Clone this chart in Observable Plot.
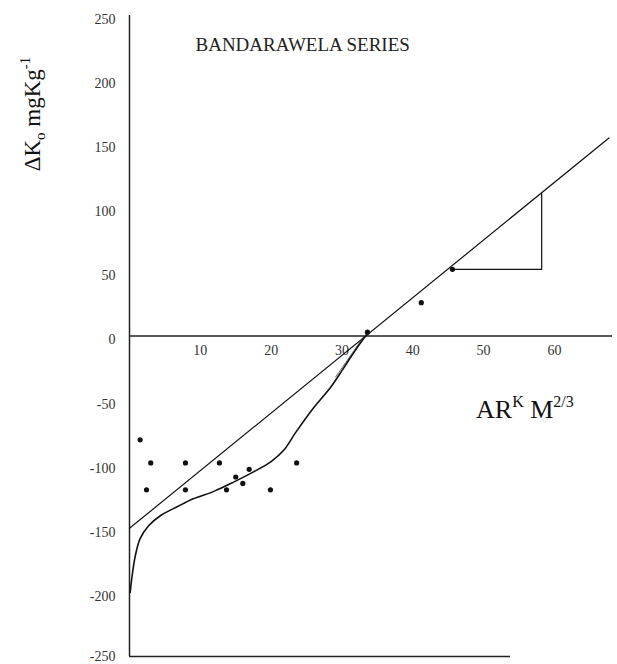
<!DOCTYPE html>
<html>
<head>
<meta charset="utf-8">
<script src="https://cdn.jsdelivr.net/npm/d3@7"></script>
<script src="https://cdn.jsdelivr.net/npm/@observablehq/plot@0.6"></script>
<style>
  html, body { margin: 0; padding: 0; background: #fff; }
  #chart { width: 617px; height: 664px; }
</style>
</head>
<body>
<div id="chart"></div>
<script>
// ---- data ----
const chartTitle = "BANDARAWELA SERIES";
const xTicks = [10, 20, 30, 40, 50, 60];
const yTicks = [250, 200, 150, 100, 50, 0, -50, -100, -150, -200, -250];

// observed points (AR^K M^2/3, ΔKo)
const pointX = [1.5, 3.0, 7.9, 12.7, 2.4, 7.9, 13.7, 16.0, 15.0, 16.9, 19.9, 23.6, 33.6, 41.2, 45.6];
const pointY = [-81, -99, -99, -99, -120, -120, -120, -115, -110, -104, -120, -99, 3, 26, 52];

// straight (linear) line
const lineX = [0, 67.7];
const lineY = [-150, 154.5];

// slope triangle
const triX = [45.6, 58.2, 58.2];
const triY = [52, 52, 111];

// fitted curve
const curveX = [0.1, 0.3, 0.8, 1.5, 2.7, 4.4, 6.8, 9.0, 12.0, 14.7, 17.5, 20.0, 21.8, 23.5, 26.0, 28.4, 30.0, 31.3, 32.4, 33.6];
const curveY = [-200, -190, -172, -158, -148, -140, -133, -127, -121, -114, -106, -98, -89, -75, -56, -40, -27, -16, -7, 2];

// hatched double stroke near the crossing
const hatchX = [29.1, 33.0];
const hatchY = [-32, -1];

// axis extents
const xMax = 68.2;
const bottomLineEnd = 53.8;

// ---- build tables ----
const points = pointX.map((x, i) => ({x, y: pointY[i]}));
const line = lineX.map((x, i) => ({x, y: lineY[i]}));
const tri = triX.map((x, i) => ({x, y: triY[i]}));
const curve = curveX.map((x, i) => ({x, y: curveY[i]}));
const hatch = hatchX.map((x, i) => ({x, y: hatchY[i]}));

const font = "'Liberation Serif', 'Times New Roman', serif";

const chart = Plot.plot({
  width: 617,
  height: 664,
  marginLeft: 129,
  marginRight: 5,
  marginTop: 15,
  marginBottom: 8,
  x: {domain: [0, xMax], axis: null},
  y: {domain: [-250, 250], axis: null},
  style: {fontFamily: font, background: "#fff", color: "#222"},
  marks: [
    // axes lines
    Plot.ruleX([0], {y1: -250, y2: 250, stroke: "#222", strokeWidth: 1.5}),
    Plot.ruleY([0], {x1: 0, x2: xMax, stroke: "#222", strokeWidth: 1.3}),
    Plot.ruleY([-250], {x1: 0, x2: bottomLineEnd, stroke: "#222", strokeWidth: 1.3}),
    // tick labels
    Plot.text(yTicks.filter(d => d > -250), {x: 0, y: d => d, text: d => String(d), textAnchor: "end", dx: -14, dy: 4, fontSize: 14, fill: "#333"}),
    Plot.text(yTicks.filter(d => d === -250), {x: 0, y: d => d, text: d => String(d), textAnchor: "end", dx: -14, dy: 0, fontSize: 14, fill: "#333"}),
    Plot.text(xTicks, {x: d => d, y: 0, text: d => String(d), dy: 15, fontSize: 14, fill: "#333"}),
    // straight line and triangle
    Plot.line(line, {x: "x", y: "y", stroke: "#111", strokeWidth: 1.2}),
    Plot.line(tri, {x: "x", y: "y", stroke: "#111", strokeWidth: 1.2}),
    // hatched band near crossing
    Plot.line(hatch, {x: "x", y: "y", stroke: "#555", strokeWidth: 0.9, strokeDasharray: "2,1"}),
    // curve
    Plot.line(curve, {x: "x", y: "y", curve: "catmull-rom", stroke: "#111", strokeWidth: 1.6}),
    // points
    Plot.dot(points, {x: "x", y: "y", r: 2.6, fill: "#111", stroke: "none"}),
    // title
    Plot.text([chartTitle], {frameAnchor: "top-left", dx: 66, dy: 29, lineAnchor: "middle", textAnchor: "start", fontSize: 19, fill: "#222"})
  ]
});

document.getElementById("chart").appendChild(chart);

// axis labels with sub/superscripts
const svg = d3.select(chart);
const yl = svg.append("text")
  .attr("transform", "translate(40,114) rotate(-90)")
  .attr("text-anchor", "middle")
  .attr("font-family", font)
  .attr("font-size", 23)
  .attr("fill", "#111");
yl.append("tspan").text("ΔK");
yl.append("tspan").attr("font-size", 15).attr("dy", 5).text("o");
yl.append("tspan").attr("dy", -5).text(" mgKg");
yl.append("tspan").attr("font-size", 15).attr("dy", -10).text("-1");

const xl = svg.append("text")
  .attr("x", 476)
  .attr("y", 418)
  .attr("text-anchor", "start")
  .attr("font-family", font)
  .attr("font-size", 26)
  .attr("fill", "#111");
xl.append("tspan").text("AR");
xl.append("tspan").attr("font-size", 16).attr("dy", -11).text("K");
xl.append("tspan").attr("dy", 11).text(" M");
xl.append("tspan").attr("font-size", 16).attr("dy", -11).text("2/3");
</script>
</body>
</html>
